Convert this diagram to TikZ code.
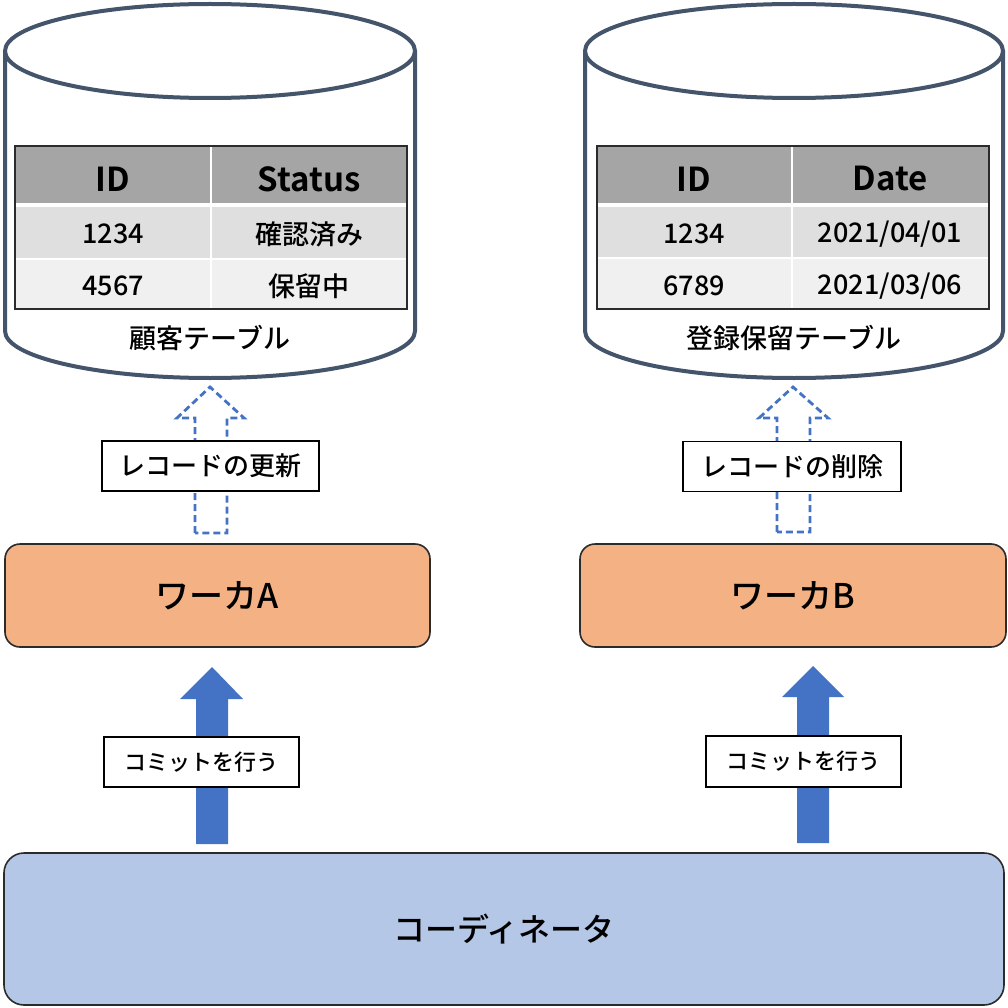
\documentclass[tikz,border=0pt]{standalone}
\usepackage{fontspec}
\setmainfont{Noto Sans CJK JP Medium}[BoldFont={Noto Sans CJK JP Bold}]
\definecolor{cylc}{HTML}{44546A}
\definecolor{abl}{HTML}{4472C4}
\definecolor{hdr}{HTML}{A5A5A5}
\definecolor{rowa}{HTML}{DFDFDF}
\definecolor{rowb}{HTML}{F0F0F0}
\definecolor{wfill}{HTML}{F4B183}
\definecolor{cfill}{HTML}{B4C7E7}
\definecolor{bord}{HTML}{2B2B2B}
\begin{document}
\begin{tikzpicture}[x=1pt,y=1pt,
  cyl/.style={draw=cylc,line width=4pt,fill=white},
  hdrtxt/.style={font=\fontsize{33}{36}\selectfont\bfseries,inner sep=0pt},
  celltxt/.style={font=\fontsize{27}{30}\selectfont,inner sep=0pt},
  tbllabel/.style={font=\fontsize{27}{30}\selectfont,inner sep=0pt},
  dasharrow/.style={draw=abl,line width=2.8pt,dash pattern=on 7pt off 4pt,fill=white},
  solidarrow/.style={fill=abl},
  lblbox/.style={draw=black,line width=1.6pt,fill=white,inner sep=0pt,font=\fontsize{26}{30}\selectfont},
  workerbox/.style={draw=bord,line width=1.6pt,fill=wfill,rounded corners=15pt,inner sep=0pt,font=\fontsize{34}{38}\selectfont},
  coordbox/.style={draw=bord,line width=1.6pt,fill=cfill,rounded corners=20pt,inner sep=0pt,font=\fontsize{32}{36}\selectfont}
]
\useasboundingbox (0,0) rectangle (1008,-1008);

% ---------- left cylinder ----------
\draw[cyl] (5,-51) -- (5,-331) arc[start angle=180,end angle=360,x radius=205,y radius=47] -- (415,-51);
\draw[cyl] (210,-51) ellipse[x radius=205,y radius=47];
% left table
\fill[hdr] (15,-146) rectangle (407,-204);
\fill[rowa] (15,-204) rectangle (407,-259);
\fill[rowb] (15,-259) rectangle (407,-309);
\draw[white,line width=4pt] (15,-205) -- (407,-205);
\draw[white,line width=2pt] (15,-259) -- (407,-259);
\draw[white,line width=2pt] (211,-146) -- (211,-309);
\draw[bord,line width=1.8pt] (15,-146) rectangle (407,-309);
\node[hdrtxt] (lh1) at (113,-179) {ID};
\node[hdrtxt] (lh2) at (309,-179) {Status};
\node[celltxt] (lr11) at (113,-234) {1234};
\node[celltxt] (lr12) at (309,-234) {確認済み};
\node[celltxt] (lr21) at (113,-286) {4567};
\node[celltxt] (lr22) at (309,-286) {保留中};
\node[tbllabel] (ltl) at (210,-338) {顧客テーブル};

% ---------- right cylinder ----------
\draw[cyl] (585,-51) -- (585,-331) arc[start angle=180,end angle=360,x radius=209,y radius=47] -- (1003,-51);
\draw[cyl] (794,-51) ellipse[x radius=209,y radius=47];
% right table
\fill[hdr] (597,-146) rectangle (989,-204);
\fill[rowa] (597,-204) rectangle (989,-258);
\fill[rowb] (597,-258) rectangle (989,-309);
\draw[white,line width=4pt] (597,-205) -- (989,-205);
\draw[white,line width=2pt] (597,-258) -- (989,-258);
\draw[white,line width=2pt] (792,-146) -- (792,-309);
\draw[bord,line width=1.8pt] (597,-146) rectangle (989,-309);
\node[hdrtxt] (rh1) at (694,-179) {ID};
\node[hdrtxt] (rh2) at (890,-179) {Date};
\node[celltxt] (rr11) at (694,-234) {1234};
\node[celltxt] (rr12) at (890,-234) {2021/04/01};
\node[celltxt] (rr21) at (694,-286) {6789};
\node[celltxt] (rr22) at (890,-286) {2021/03/06};
\node[tbllabel] (rtl) at (794,-338) {登録保留テーブル};

% ---------- dashed arrows ----------
\draw[dasharrow] (195,-533) -- (195,-418) -- (177,-418) -- (210,-387) -- (244,-418) -- (227,-418) -- (227,-533) -- cycle;
\draw[dasharrow] (777,-532) -- (777,-418) -- (759,-418) -- (793,-387) -- (828,-418) -- (810,-418) -- (810,-532) -- cycle;

% ---------- solid arrows ----------
\fill[solidarrow] (196,-844) -- (196,-699) -- (180,-699) -- (212,-667) -- (243,-699) -- (228,-699) -- (228,-844) -- cycle;
\fill[solidarrow] (797,-843) -- (797,-697) -- (782,-697) -- (813,-666) -- (844,-697) -- (829,-697) -- (829,-843) -- cycle;

% ---------- label boxes ----------
\node[lblbox,minimum width=217pt,minimum height=50pt] (lupd) at (210.5,-466) {レコードの更新};
\node[lblbox,minimum width=218pt,minimum height=50pt] (ldel) at (792,-466.5) {レコードの削除};
\node[lblbox,minimum width=195pt,minimum height=50pt,font=\fontsize{22}{26}\selectfont] (lcma) at (201.5,-762) {コミットを行う};
\node[lblbox,minimum width=195pt,minimum height=51pt,font=\fontsize{22}{26}\selectfont] (lcmb) at (803.5,-761.5) {コミットを行う};

% ---------- workers ----------
\node[workerbox,minimum width=425pt,minimum height=103pt] (wa) at (217.5,-595.5) {ワーカA};
\node[workerbox,minimum width=426pt,minimum height=103pt] (wb) at (793,-595.5) {ワーカB};

% ---------- coordinator ----------
\node[coordbox,minimum width=1000pt,minimum height=152pt] (co) at (504,-929) {コーディネータ};
\end{tikzpicture}
\end{document}
